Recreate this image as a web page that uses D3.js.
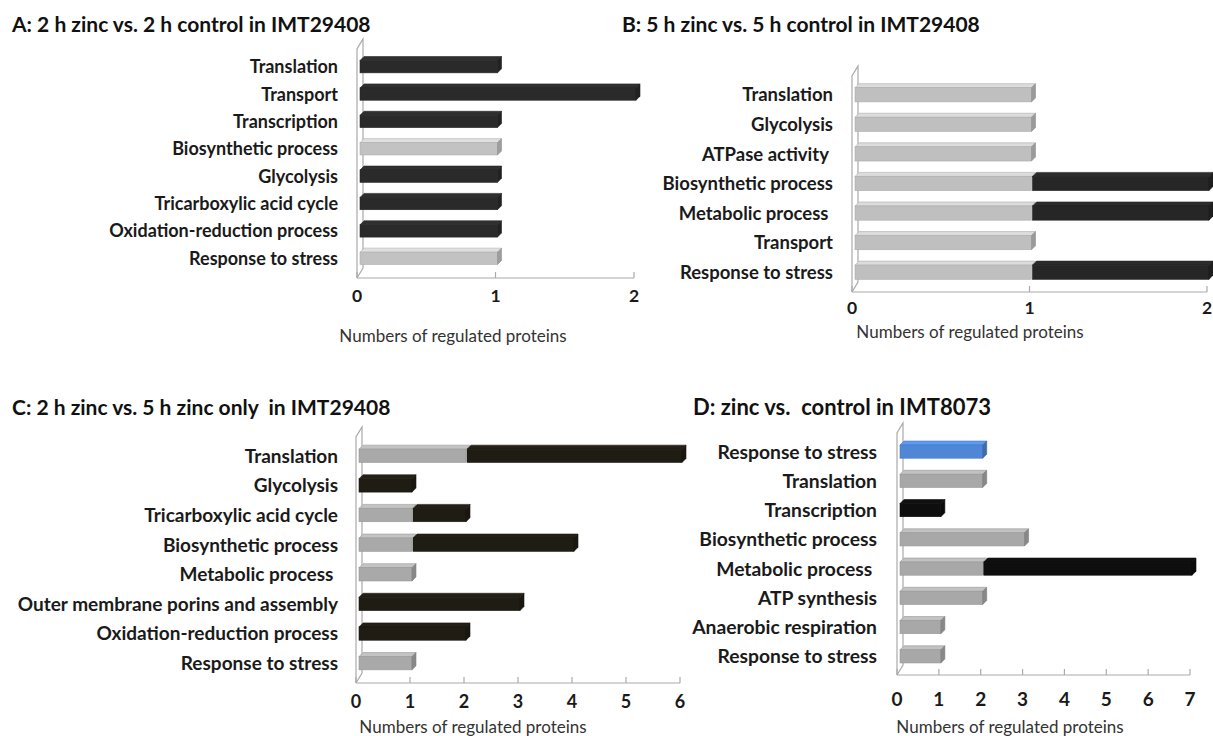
<!DOCTYPE html>
<html>
<head>
<meta charset="utf-8">
<script src="https://cdn.jsdelivr.net/npm/d3@7"></script>
<style>
  body { margin: 0; background: #fff; }
  text { font-family: Lato, "Open Sans", sans-serif; white-space: pre; }
  .title { font-weight: bold; fill: #111; }
  .cat { font-weight: bold; fill: #1a1a1a; }
  .tick { font-weight: bold; fill: #1a1a1a; }
  .xlab { font-size: 17px; fill: #333; }
</style>
</head>
<body>
<svg id="chart" width="1213" height="736"></svg>
<script>
// panel A: 2 h zinc vs 2 h control
let catsA = ["Translation", "Transport", "Transcription", "Biosynthetic process", "Glycolysis",
  "Tricarboxylic acid cycle", "Oxidation-reduction process", "Response to stress"];
let grayA = [0, 0, 0, 1, 0, 0, 0, 1];
let darkA = [1, 2, 1, 0, 1, 1, 1, 0];

// panel B: 5 h zinc vs 5 h control
let catsB = ["Translation", "Glycolysis", "ATPase activity ", "Biosynthetic process", "Metabolic process ",
  "Transport", "Response to stress"];
let grayB = [1, 1, 1, 1, 1, 1, 1];
let darkB = [0, 0, 0, 1, 1, 0, 1];

// panel C: 2 h zinc vs 5 h zinc only
let catsC = ["Translation", "Glycolysis", "Tricarboxylic acid cycle", "Biosynthetic process", "Metabolic process ",
  "Outer membrane porins and assembly", "Oxidation-reduction process", "Response to stress"];
let grayC = [2, 0, 1, 1, 1, 0, 0, 1];
let darkC = [4, 1, 1, 3, 0, 3, 2, 0];

// panel D: zinc vs control in IMT8073
let catsD = ["Response to stress", "Translation", "Transcription", "Biosynthetic process", "Metabolic process ",
  "ATP synthesis", "Anaerobic respiration", "Response to stress"];
let blueD = [2, 0, 0, 0, 0, 0, 0, 0];
let grayD = [0, 2, 0, 3, 2, 2, 1, 1];
let darkD = [0, 0, 1, 0, 5, 0, 0, 0];

let titles = ["A: 2 h zinc vs. 2 h control in IMT29408",
  "B: 5 h zinc vs. 5 h control in IMT29408",
  "C: 2 h zinc vs. 5 h zinc only  in IMT29408",
  "D: zinc vs.  control in IMT8073"];
let xLabel = "Numbers of regulated proteins";

let svg = d3.select("#chart");

function drawPanel(p) {
  let g = svg.append("g");
  let x = d3.scaleLinear().domain([0, p.max]).range([p.x0, p.x1]);
  let y = d3.scaleBand().domain(d3.range(p.cats.length)).range([p.top, p.bottom]).paddingInner(p.pad).paddingOuter(p.pad / 2);
  let dx = 4, dy = 4;

  g.append("text").attr("class", "title").attr("x", p.tx).attr("y", p.ty)
    .style("font-size", p.tfs + "px").text(p.title);

  // 3d wall on the left
  let wall = g.append("g").attr("fill", "none").attr("stroke", "#aaa").attr("stroke-width", 1.2);
  wall.append("path").attr("d", `M${p.x0},${p.base} L${p.x0},${p.top - 4} L${p.x0 + dx + 2},${p.top - 4 - dy - 6} L${p.x0 + dx + 2},${p.base - dy - 6} L${p.x0},${p.base}`);
  // floor line + ticks
  g.append("line").attr("x1", p.x0).attr("x2", p.x1).attr("y1", p.base).attr("y2", p.base)
    .attr("stroke", "#aaa").attr("stroke-width", 1.2);
  g.selectAll(".tk").data(d3.range(0, p.max + 1)).enter().append("line")
    .attr("x1", d => x(d)).attr("x2", d => x(d)).attr("y1", p.base).attr("y2", p.base - 6)
    .attr("stroke", "#aaa").attr("stroke-width", 1.2);
  g.selectAll(".tl").data(d3.range(0, p.max + 1)).enter().append("text")
    .attr("class", "tick").attr("text-anchor", "middle").style("font-size", p.kfs + "px")
    .attr("x", d => x(d)).attr("y", p.base + p.kdy).text(d => d);
  g.append("text").attr("class", "xlab").attr("text-anchor", "middle")
    .attr("x", p.xlx).attr("y", p.xly).text(xLabel);

  // category labels
  g.selectAll(".cat").data(p.cats).enter().append("text")
    .attr("class", "cat").attr("text-anchor", "end").style("font-size", p.fs + "px")
    .attr("x", p.lx).attr("y", (d, i) => y(i) + y.bandwidth() / 2 + p.fs * 0.36).text(d => d);

  // stacked 3d bars
  let bh = y.bandwidth();
  p.cats.forEach((c, i) => {
    let start = 0;
    let segs = [];
    p.series.forEach(s => {
      let v = s.values[i];
      if (v > 0) { segs.push({ a: start, b: start + v, color: s.color }); start += v; }
    });
    segs.forEach((s, k) => {
      let xa = x(s.a) + 3, xb = x(s.b) + 2, yt = y(i);
      let col = d3.color(s.color);
      // top face
      g.append("path")
        .attr("d", `M${xa},${yt} L${xa + dx},${yt - dy} L${xb + dx},${yt - dy} L${xb},${yt} Z`)
        .attr("fill", col.brighter(0.4)).attr("stroke", col.darker(0.3)).attr("stroke-width", 0.6);
      g.append("rect").attr("x", xa).attr("y", yt).attr("width", xb - xa).attr("height", bh)
        .attr("fill", s.color).attr("stroke", col.darker(0.3)).attr("stroke-width", 0.6);
      if (k === segs.length - 1) {
        g.append("path")
          .attr("d", `M${xb},${yt} L${xb + dx},${yt - dy} L${xb + dx},${yt + bh - dy} L${xb},${yt + bh} Z`)
          .attr("fill", col.darker(0.6)).attr("stroke", col.darker(0.8)).attr("stroke-width", 0.6);
      }
    });
  });
}

drawPanel({
  title: titles[0], tx: 12, ty: 32, tfs: 21, cats: catsA, max: 2, fs: 18, kfs: 17.5, kdy: 24,
  x0: 357, x1: 634, top: 53, bottom: 272, base: 278, pad: 0.55, lx: 338,
  xlx: 453, xly: 342,
  series: [{ values: grayA, color: "#c2c2c2" }, { values: darkA, color: "#2a2a2a" }]
});
drawPanel({
  title: titles[1], tx: 622, ty: 32, tfs: 21, cats: catsB, max: 2, fs: 18.5, kfs: 17.5, kdy: 22,
  x0: 852, x1: 1207, top: 80, bottom: 287, base: 292, pad: 0.52, lx: 833,
  xlx: 970, xly: 338,
  series: [{ values: grayB, color: "#bfbfbf" }, { values: darkB, color: "#262626" }]
});
drawPanel({
  title: titles[2], tx: 12, ty: 415, tfs: 21, cats: catsC, max: 6, fs: 19, kfs: 18, kdy: 25,
  x0: 356, x1: 680, top: 441, bottom: 678, base: 683, pad: 0.55, lx: 338,
  xlx: 473, xly: 733,
  series: [{ values: grayC, color: "#a9a9a9" }, { values: darkC, color: "#1f1c14" }]
});
drawPanel({
  title: titles[3], tx: 693, ty: 415, tfs: 22, cats: catsD, max: 7, fs: 19.3, kfs: 19, kdy: 31,
  x0: 897, x1: 1190, top: 437, bottom: 671, base: 675, pad: 0.55, lx: 877,
  xlx: 1010, xly: 733,
  series: [{ values: blueD, color: "#4f86d6" }, { values: grayD, color: "#a8a8a8" }, { values: darkD, color: "#0e0e0e" }]
});
</script>
</body>
</html>
